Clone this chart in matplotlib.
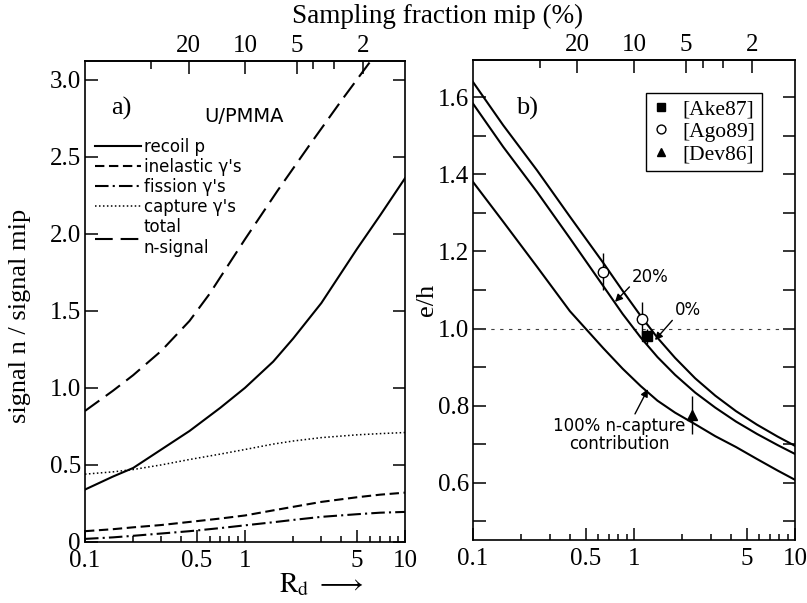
import numpy as np
import matplotlib
matplotlib.use("Agg")
import matplotlib.pyplot as plt
from matplotlib.ticker import FixedLocator, NullFormatter

plt.rcParams['font.family'] = 'Liberation Serif'
plt.rcParams['mathtext.fontset'] = 'stix'

# ============================================================================
# DATA
# ============================================================================

# panel a) signal components vs R_d
rd_a = [0.1, 0.15, 0.2, 0.3, 0.45, 0.7, 1.0, 1.5, 2.0, 3.0, 5.0, 7.0, 10.0]
recoil_p = [0.34, 0.425, 0.48, 0.60, 0.72, 0.87, 1.0, 1.17, 1.32, 1.55, 1.90, 2.12, 2.36]
inelastic = [0.07, 0.083, 0.095, 0.11, 0.13, 0.152, 0.172, 0.205, 0.228, 0.26, 0.29, 0.307, 0.32]
fission = [0.02, 0.03, 0.04, 0.055, 0.07, 0.09, 0.108, 0.128, 0.143, 0.163, 0.18, 0.19, 0.195]
capture = [0.44, 0.455, 0.47, 0.50, 0.535, 0.57, 0.60, 0.635, 0.655, 0.677, 0.695, 0.703, 0.71]

rd_total = [0.1, 0.15, 0.2, 0.3, 0.45, 0.6, 0.8, 1.0, 1.6, 2.5, 4.0, 6.0, 6.5]
total = [0.85, 0.982, 1.082, 1.24, 1.434, 1.609, 1.809, 1.964, 2.28, 2.567, 2.863, 3.11, 3.16]

# panel b) e/h vs R_d for 0%, 20%, 100% n-capture contribution
rd_b = [0.1, 0.154, 0.25, 0.4, 0.645, 0.85, 1.1, 1.4, 1.8, 2.4, 3.2, 4.3, 5.8, 7.8, 10.0]
eh_0 = [1.639, 1.527, 1.41, 1.29, 1.17, 1.098, 1.033, 0.976, 0.924, 0.871, 0.826,
        0.786, 0.751, 0.72, 0.696]
eh_20 = [1.583, 1.471, 1.354, 1.234, 1.11, 1.038, 0.977, 0.926, 0.88, 0.834, 0.795,
         0.759, 0.727, 0.698, 0.675]
eh_100 = [1.38, 1.277, 1.16, 1.045, 0.949, 0.896, 0.851, 0.813, 0.782, 0.752, 0.721,
          0.693, 0.662, 0.632, 0.608]

# measurements
ake_rd, ake_eh, ake_err = [1.21], [0.98], [0.02]
ago_rd, ago_eh, ago_err = [0.645, 1.117], [1.147, 1.024], [0.048, 0.045]
dev_rd, dev_eh, dev_err = [2.28], [0.776], [0.05]

# top axis: sampling fraction (%) of a mip
frac_major = [20, 10, 5, 2]
frac_minor = [30, 4, 3]
rd_ticks = [0.1, 0.5, 1, 5, 10]
rd_minor = [0.2, 0.3, 0.4, 0.6, 0.7, 0.8, 0.9, 2, 3, 4, 6, 7, 8, 9]


def rd_to_frac(rd):
    rd = np.asarray(rd, dtype=float)
    return 100.0 / (1.0 + 9.0 * rd)


def frac_to_rd(f):
    f = np.asarray(f, dtype=float)
    with np.errstate(divide='ignore', invalid='ignore'):
        return (100.0 / f - 1.0) / 9.0


def style_axes(ax):
    ax.set_xscale('log')
    ax.set_xlim(0.1, 10)
    ax.xaxis.set_major_locator(FixedLocator(rd_ticks))
    ax.xaxis.set_minor_locator(FixedLocator(rd_minor))
    ax.set_xticklabels(['0.1', '0.5', '1', '5', '10'])
    ax.xaxis.set_minor_formatter(NullFormatter())
    ax.tick_params(which='both', direction='in', top=False, right=True,
                   labelsize=18, width=1.1)
    ax.tick_params(which='major', length=9)
    ax.tick_params(which='minor', length=4.5)
    ax.tick_params(axis='x', pad=6)
    ax.tick_params(axis='y', pad=3)
    for s in ax.spines.values():
        s.set_linewidth(1.2)

    sec = ax.secondary_xaxis('top', functions=(rd_to_frac, frac_to_rd))
    sec.xaxis.set_major_locator(FixedLocator(frac_major))
    sec.xaxis.set_minor_locator(FixedLocator(frac_minor))
    sec.set_xticklabels([str(f) for f in frac_major])
    sec.xaxis.set_minor_formatter(NullFormatter())
    sec.tick_params(which='both', direction='in', labelsize=18, width=1.1, pad=3)
    sec.tick_params(which='major', length=9)
    sec.tick_params(which='minor', length=6)
    sec.spines['top'].set_linewidth(1.2)
    return sec


fig = plt.figure(figsize=(8.07, 6.03), dpi=100)

# ============================================================================
# PANEL a)
# ============================================================================
ax1 = fig.add_axes([0.1053, 0.1012, 0.3966, 0.7976])
style_axes(ax1)
ax1.set_ylim(0, 3.12)
ax1.set_yticks([0, 0.5, 1.0, 1.5, 2.0, 2.5, 3.0])
ax1.set_yticklabels(['0', '0.5', '1.0', '1.5', '2.0', '2.5', '3.0'])

lw = 1.5
ax1.plot(rd_a, recoil_p, color='black', lw=lw, ls='-', label='recoil p')
ax1.plot(rd_a, inelastic, color='black', lw=lw, ls=(0, (4.5, 2.2)), label="inelastic γ's")
ax1.plot(rd_a, fission, color='black', lw=lw, ls=(0, (6.5, 2.0, 1.0, 2.0)), label="fission γ's")
ax1.plot(rd_a, capture, color='black', lw=1.1, ls=(0, (1, 1.6)), label="capture γ's")
ax1.plot(rd_total, total, color='black', lw=lw, ls=(0, (8.5, 3.8)), label='total\nn-signal')

ax1.legend(loc='upper left', bbox_to_anchor=(0.03, 0.84), frameon=False,
           borderpad=0, borderaxespad=0, labelspacing=0.12, handlelength=2.8,
           handletextpad=0.15, prop={'family': 'DejaVu Sans', 'size': 12})

ax1.text(0.115, 0.902, 'a)', transform=ax1.transAxes, fontsize=19,
         ha='center', va='center')
ax1.text(0.497, 0.885, 'U/PMMA', transform=ax1.transAxes, fontsize=14,
         family='DejaVu Sans', ha='center', va='center')

# ============================================================================
# PANEL b)
# ============================================================================
ax2 = fig.add_axes([0.5861, 0.1045, 0.399, 0.7960])
style_axes(ax2)
ax2.set_ylim(0.452, 1.696)
ax2.yaxis.set_major_locator(FixedLocator([0.6, 0.8, 1.0, 1.2, 1.4, 1.6]))
ax2.yaxis.set_minor_locator(FixedLocator([0.5, 0.7, 0.9, 1.1, 1.3, 1.5]))
ax2.set_yticklabels(['0.6', '0.8', '1.0', '1.2', '1.4', '1.6'])
ax2.tick_params(axis='y', which='minor', length=9)

ax2.axhline(1.0, color='0.25', lw=0.8, ls=(0, (3, 5)))
ax2.plot(rd_b, eh_0, color='black', lw=lw)
ax2.plot(rd_b, eh_20, color='black', lw=lw)
ax2.plot(rd_b, eh_100, color='black', lw=lw)

ax2.errorbar(ake_rd, ake_eh, yerr=ake_err, fmt='none', ecolor='black', elinewidth=1, capsize=0)
ax2.errorbar(ago_rd, ago_eh, yerr=ago_err, fmt='none', ecolor='black', elinewidth=1, capsize=0)
ax2.errorbar(dev_rd, dev_eh, yerr=dev_err, fmt='none', ecolor='black', elinewidth=1, capsize=0)
ax2.plot(ake_rd, ake_eh, 's', ms=7, mfc='black', mec='black', ls='none', label='[Ake87]', zorder=4)
ax2.plot(ago_rd, ago_eh, 'o', ms=7.5, mfc='white', mec='black', mew=1, ls='none', label='[Ago89]', zorder=4)
ax2.plot(dev_rd, dev_eh, '^', ms=7, mfc='black', mec='black', ls='none', label='[Dev86]', zorder=4)

leg = ax2.legend(loc='upper right', bbox_to_anchor=(0.898, 0.931), borderaxespad=0,
                 fancybox=False, edgecolor='black', framealpha=1, fontsize=15.5,
                 handlelength=0.8, handletextpad=0.6, labelspacing=0.1,
                 borderpad=0.3, markerscale=0.85)
leg.get_frame().set_linewidth(1.0)

ax2.text(0.168, 0.90, 'b)', transform=ax2.transAxes, fontsize=19,
         ha='center', va='center')

arrow = dict(arrowstyle='-|>', color='black', lw=1.0, mutation_scale=11,
             shrinkA=0, shrinkB=0)
ann_font = dict(family='DejaVu Sans', fontsize=12)
ax2.annotate('20%', xy=(0.762, 1.069), xytext=(0.975, 1.134), ha='left', va='center',
             arrowprops=dict(arrow, relpos=(0, 0.1)), **ann_font)
ax2.annotate('0%', xy=(1.35, 0.970), xytext=(1.80, 1.048), ha='left', va='center',
             arrowprops=dict(arrow, relpos=(0, 0.1)), **ann_font)
ax2.annotate('100% n-capture\ncontribution', xy=(1.22, 0.843), xytext=(0.807, 0.724),
             ha='center', va='center', multialignment='center', linespacing=1.05,
             arrowprops=dict(arrow, relpos=(0.61, 1.0)), **ann_font)

# ============================================================================
# FIGURE LABELS
# ============================================================================
fig.text(0.542, 0.973, 'Sampling fraction mip (%)', fontsize=19.5, ha='center', va='center')
fig.text(0.025, 0.476, 'signal n / signal mip', fontsize=19, rotation=90,
         ha='center', va='center')
fig.text(0.529, 0.5025, 'e/h', fontsize=19, rotation=90, ha='center', va='center')
fig.text(0.398, 0.03, r'$\mathrm{R_d}\ \longrightarrow$', fontsize=20, ha='center', va='center')

fig.savefig('out.png', dpi=100)
